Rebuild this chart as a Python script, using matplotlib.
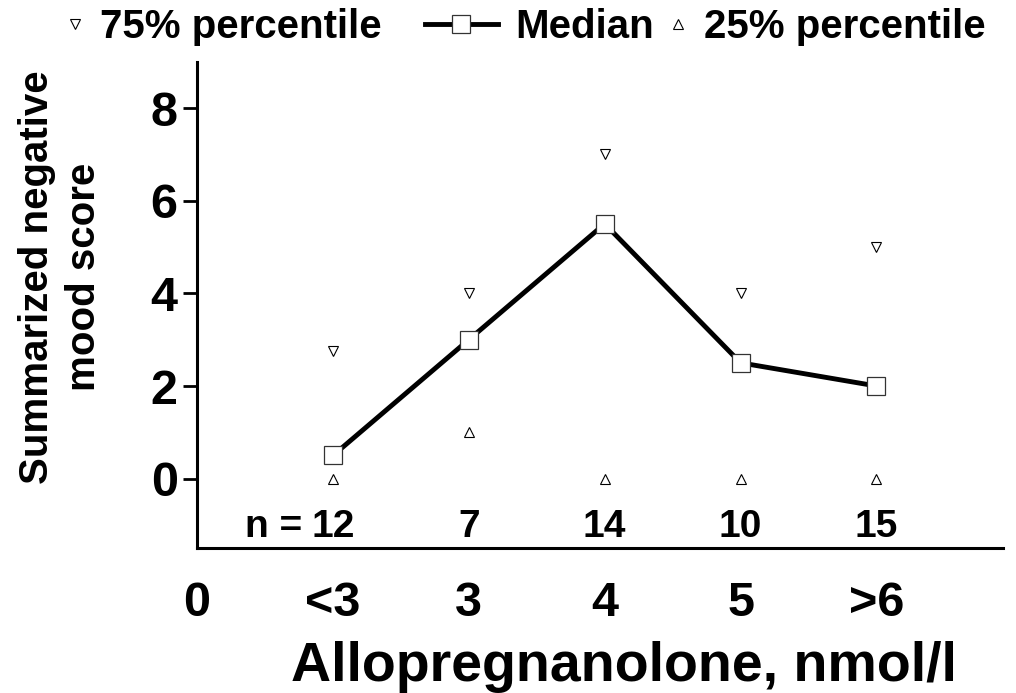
import matplotlib
matplotlib.use("Agg")
import matplotlib.pyplot as plt
from matplotlib.lines import Line2D

plt.rcParams['font.family'] = ['Liberation Sans', 'DejaVu Sans']
plt.rcParams['font.weight'] = 'bold'

# data
groups = ['<3', '3', '4', '5', '>6']
x_pos = [1, 2, 3, 4, 5]
median = [0.5, 3, 5.5, 2.5, 2]
p75 = [2.75, 4, 7, 4, 5]
p25 = [0, 1, 0, 0, 0]
n_counts = ['12', '7', '14', '10', '15']

fig = plt.figure(figsize=(10.16, 6.93), dpi=100)
ax = fig.add_axes([0.194, 0.209, 0.793, 0.702])

line_kw = dict(color='black', lw=3.5, marker='s', ms=13.5, mfc='white',
               mec='#333333', mew=0.9)
tri_kw = dict(ls='none', ms=7, mfc='white', mec='black', mew=0.8)

ax.plot(x_pos, median, **line_kw)
ax.plot(x_pos, p75, marker='v', **tri_kw)
ax.plot(x_pos, p25, marker='^', **tri_kw)

# n per group
for x, n in zip(x_pos, n_counts):
    ax.text(x, -1.05, n, ha='center', va='center', fontsize=28, fontweight='bold')
ax.annotate('n =', xy=(x_pos[0], -1.05), xytext=(-22, 0), textcoords='offset points',
            ha='right', va='center', fontsize=28, fontweight='bold')

ax.set_xlim(0, 5.93)
ax.set_ylim(-1.5, 9)
ax.set_yticks([0, 2, 4, 6, 8])
ax.set_xticks([0] + x_pos)
ax.set_xticklabels(['0'] + groups)
ax.set_xticks([0], minor=True)

for s in ['top', 'right']:
    ax.spines[s].set_visible(False)
for s in ['left', 'bottom']:
    ax.spines[s].set_linewidth(2.2)

ax.tick_params(axis='y', length=10, width=2, pad=4, labelsize=35)
ax.tick_params(axis='x', which='major', length=0, pad=24, labelsize=35)
ax.tick_params(axis='x', which='minor', length=10, width=2.2)
for lab in ax.get_xticklabels() + ax.get_yticklabels():
    lab.set_fontweight('bold')

ax.set_xlabel('Allopregnanolone, nmol/l', fontsize=40, fontweight='bold')
ax.xaxis.set_label_coords(0.53, -0.19)
ax.set_ylabel('Summarized negative\nmood score', fontsize=29, fontweight='bold',
              linespacing=1.3)
ax.yaxis.set_label_coords(-0.117, 0.557)

# legend entries placed in a row along the top
leg_y = 1 - 27 / 693
entries = [
    (Line2D([], [], marker='v', **tri_kw), '75% percentile', 65, 0.5, 0.38),
    (Line2D([], [], **line_kw), 'Median', 425, 1.8, 0.44),
    (Line2D([], [], marker='^', **tri_kw), '25% percentile', 668, 0.5, 0.4),
]
for h, lab, px, hl, tp in entries:
    fig.legend([h], [lab], loc='center left', bbox_to_anchor=(px / 1016, leg_y),
               frameon=False, borderpad=0, borderaxespad=0, handlelength=hl,
               handletextpad=tp, prop=dict(size=29, weight='bold'))

fig.savefig('out.png', dpi=100)
